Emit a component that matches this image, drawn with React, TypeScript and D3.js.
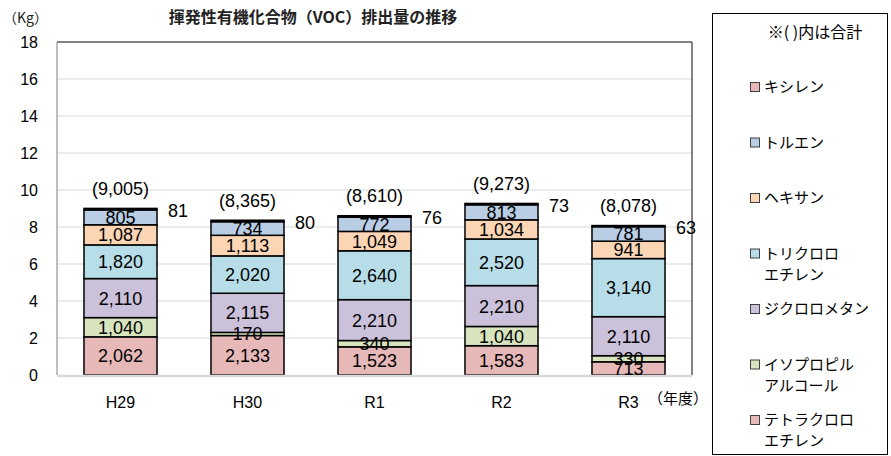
import * as d3 from "d3";
import React from "react";

// data (kg)
const years = ["H29", "H30", "R1", "R2", "R3"];
const seriesNames = [
  "テトラクロロエチレン",
  "イソプロピルアルコール",
  "ジクロロメタン",
  "トリクロロエチレン",
  "ヘキサン",
  "トルエン",
  "キシレン",
];
const tetrachloroethylene = [2062, 2133, 1523, 1583, 713];
const isopropylAlcohol = [1040, 170, 340, 1040, 330];
const dichloromethane = [2110, 2115, 2210, 2210, 2110];
const trichloroethylene = [1820, 2020, 2640, 2520, 3140];
const hexane = [1087, 1113, 1049, 1034, 941];
const toluene = [805, 734, 772, 813, 781];
const xylene = [81, 80, 76, 73, 63];
const yTicks = [0, 2, 4, 6, 8, 10, 12, 14, 16, 18];

// legend (top to bottom), split into lines like the original
const legendLines = [
  ["キシレン"],
  ["トルエン"],
  ["ヘキサン"],
  ["トリクロロ", "エチレン"],
  ["ジクロロメタン"],
  ["イソプロピル", "アルコール"],
  ["テトラクロロ", "エチレン"],
];

const colors = ["#e6b9b8", "#d7e4bd", "#ccc1da", "#b7dee8", "#fcd5b5", "#b9cde5", "#e6b9b8"];

const W = 891;
const H = 456;
const plot = { left: 57, right: 692, top: 42, bottom: 375 };
const numFont = "'Liberation Sans', Arial, sans-serif";
const jpFont = "'Noto Sans CJK JP', sans-serif";
const fmt = d3.format(",");

export default function App() {
  const rows = years.map((y, i) => ({
    year: y,
    s0: tetrachloroethylene[i],
    s1: isopropylAlcohol[i],
    s2: dichloromethane[i],
    s3: trichloroethylene[i],
    s4: hexane[i],
    s5: toluene[i],
    s6: xylene[i],
  }));
  const keys = ["s0", "s1", "s2", "s3", "s4", "s5", "s6"];
  const stacked = d3.stack<any>().keys(keys)(rows);

  const x = d3
    .scaleBand()
    .domain(years)
    .range([plot.left, plot.right])
    .paddingInner(0.425)
    .paddingOuter(0.2125);
  const y = d3.scaleLinear().domain([0, 18000]).range([plot.bottom, plot.top]);

  const legendY = d3
    .scaleLinear()
    .domain([0, legendLines.length - 1])
    .range([87, 420]);

  return (
    <svg
      width={W}
      height={H}
      style={{ position: "absolute", left: 0, top: 0, background: "#fff" }}
    >
      {/* title */}
      <text x={313} y={23} textAnchor="middle" fontFamily={jpFont} fontSize={16} fontWeight="bold" fill="#222">
        揮発性有機化合物（VOC）排出量の推移
      </text>
      <text x={3} y={23} fontFamily={jpFont} fontSize={14} fill="#222">
        （Kg）
      </text>

      {/* grid */}
      {yTicks.map((t) => (
        <g key={t}>
          {t > 0 && t < 18 && (
            <line x1={plot.left} x2={plot.right} y1={y(t * 1000)} y2={y(t * 1000)} stroke="#d9d9d9" strokeWidth={1} />
          )}
          <text
            x={38}
            y={y(t * 1000)}
            dy="0.35em"
            textAnchor="end"
            fontFamily={numFont}
            fontSize={16}
            fill="#000"
          >
            {t}
          </text>
        </g>
      ))}

      {/* plot frame */}
      <line x1={plot.left} x2={plot.right} y1={plot.top} y2={plot.top} stroke="#595959" strokeWidth={1.5} />
      <line x1={plot.left} x2={plot.left} y1={plot.top} y2={plot.bottom} stroke="#7f7f7f" strokeWidth={1} />
      <line x1={plot.right} x2={plot.right} y1={plot.top} y2={plot.bottom} stroke="#595959" strokeWidth={1.5} />

      {/* bars */}
      {stacked.map((layer, li) => (
        <g key={layer.key}>
          {layer.map((d, i) => (
            <rect
              key={i}
              x={x(years[i])}
              y={y(d[1])}
              width={x.bandwidth()}
              height={y(d[0]) - y(d[1])}
              fill={colors[li]}
              stroke="#000"
              strokeWidth={1.5}
            />
          ))}
        </g>
      ))}

      {/* x axis line */}
      <line x1={plot.left} x2={plot.right} y1={plot.bottom + 1} y2={plot.bottom + 1} stroke="#d9d9d9" strokeWidth={2.5} />

      {/* segment labels */}
      {stacked.slice(0, 6).map((layer) =>
        layer.map((d, i) => (
          <text
            key={layer.key + i}
            x={x(years[i])! + x.bandwidth() / 2}
            y={y((d[0] + d[1]) / 2)}
            dy="0.36em"
            textAnchor="middle"
            fontFamily={numFont}
            fontSize={18}
            fill="#000"
          >
            {fmt(d[1] - d[0])}
          </text>
        ))
      )}

      {/* xylene labels beside the bar top, totals above */}
      {stacked[6].map((d, i) => (
        <g key={"t" + i}>
          <text
            x={x(years[i])! + x.bandwidth() + 11}
            y={y(d[1]) + 2}
            dy="0.36em"
            fontFamily={numFont}
            fontSize={18}
            fill="#000"
          >
            {fmt(xylene[i])}
          </text>
          <text
            x={x(years[i])! + x.bandwidth() / 2}
            y={y(d[1]) - 20}
            dy="0.36em"
            textAnchor="middle"
            fontFamily={numFont}
            fontSize={18}
            fill="#000"
          >
            ({fmt(d[1])})
          </text>
        </g>
      ))}

      {/* categories */}
      {years.map((yr) => (
        <text
          key={yr}
          x={x(yr)! + x.bandwidth() / 2}
          y={402}
          dy="0.35em"
          textAnchor="middle"
          fontFamily={numFont}
          fontSize={16}
          fill="#000"
        >
          {yr}
        </text>
      ))}
      <text x={648} y={399} dy="0.35em" fontFamily={jpFont} fontSize={15} fill="#000">
        （年度）
      </text>

      {/* legend */}
      <rect x={712.5} y={13.5} width={175} height={441} fill="#fff" stroke="#000" strokeWidth={1} />
      <text x={815} y={32} dy="0.35em" textAnchor="middle" fontFamily={jpFont} fontSize={16} fill="#000">
        ※( )内は合計
      </text>
      {legendLines.map((lines, i) => {
        const ci = seriesNames.length - 1 - i;
        const ly = legendY(i);
        return (
          <g key={i}>
            <rect x={750.5} y={ly - 4.5} width={9} height={9} fill={colors[ci]} stroke="#404040" strokeWidth={1} />
            {lines.map((t, k) => (
              <text key={k} x={764} y={ly + k * 21} dy="0.35em" fontFamily={jpFont} fontSize={15} fill="#000">
                {t}
              </text>
            ))}
          </g>
        );
      })}
    </svg>
  );
}
